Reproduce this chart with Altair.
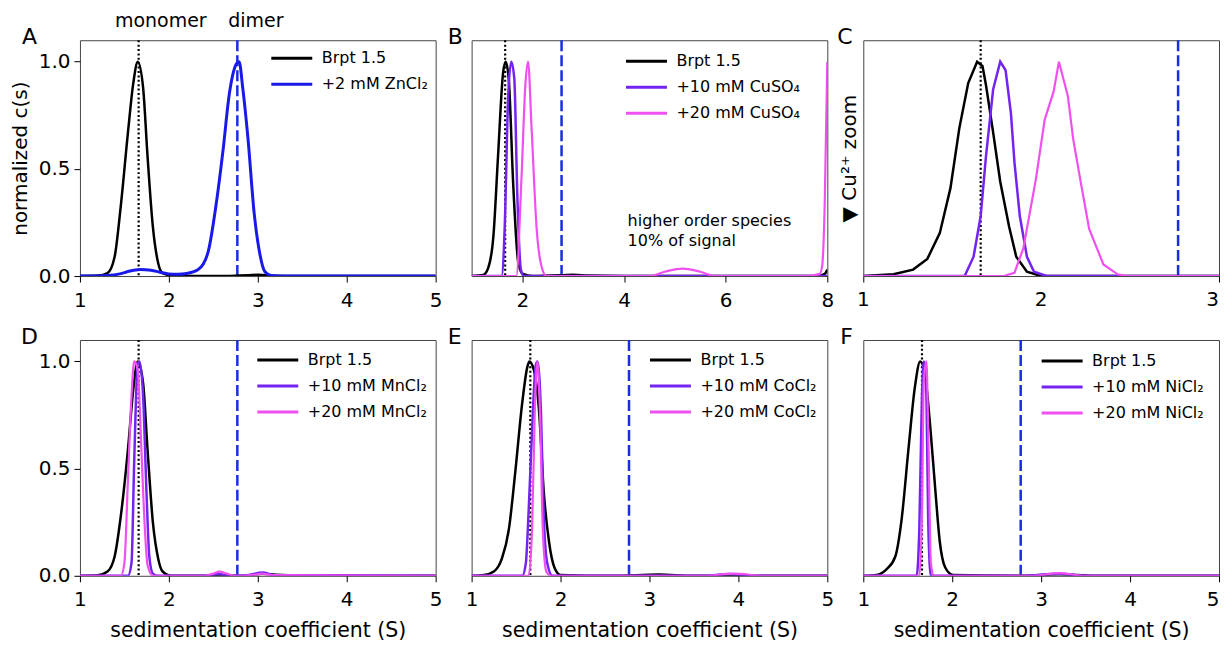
import altair as alt
import pandas as pd

FONT = "DejaVu Sans"
BLACK = "#000000"
BLUE = "#1a1ae8"
PURPLE = "#7424f0"
PINK = "#f050f0"
REF_BLUE = "#1a2ee0"

MONOMER_S = 1.66
DIMER_S = 2.77

# ---------------- Panel A (ZnCl2) ----------------
A_black_s = [1.0, 1.2, 1.31, 1.39, 1.46, 1.54, 1.60, 1.65, 1.71, 1.76, 1.82, 1.88, 1.93, 2.03, 2.5, 2.9, 3.0, 3.1, 3.5, 5.0]
A_black_c = [0, 0.002, 0.014, 0.09, 0.33, 0.67, 0.9, 1.0, 0.88, 0.56, 0.23, 0.06, 0.014, 0.003, 0, 0.004, 0.006, 0.003, 0, 0]
A_blue_s = [1.0, 1.3, 1.45, 1.55, 1.68, 1.8, 1.9, 2.0, 2.1, 2.2, 2.33, 2.44, 2.53, 2.61, 2.68, 2.76, 2.79, 2.83, 2.89, 2.96, 3.02, 3.08, 3.15, 3.3, 5.0]
A_blue_c = [0, 0.003, 0.01, 0.022, 0.03, 0.027, 0.018, 0.01, 0.008, 0.012, 0.03, 0.11, 0.33, 0.59, 0.85, 0.99, 1.0, 0.88, 0.64, 0.29, 0.11, 0.02, 0.003, 0, 0]

# ---------------- Panel B (CuSO4, wide range) ----------------
B_black_s = [1.0, 1.23, 1.33, 1.43, 1.52, 1.62, 1.67, 1.73, 1.82, 1.92, 2.01, 2.2, 2.8, 3.0, 3.3, 4.0, 7.8, 7.95, 8.0]
B_black_c = [0, 0.005, 0.04, 0.19, 0.56, 0.95, 1.0, 0.92, 0.42, 0.06, 0.01, 0, 0.004, 0.006, 0.002, 0, 0, 0.01, 0.03]
B_purple_s = [1.0, 1.59, 1.65, 1.72, 1.78, 1.84, 1.90, 1.97, 2.03, 8.0]
B_purple_c = [0, 0, 0.22, 0.84, 1.0, 0.92, 0.37, 0.03, 0, 0]
B_pink_s = [1.0, 1.88, 1.98, 2.06, 2.11, 2.18, 2.28, 2.37, 2.47, 4.5, 4.8, 5.15, 5.5, 5.8, 7.6, 7.85, 7.9, 7.95, 8.0]
B_pink_c = [0, 0, 0.45, 0.9, 1.0, 0.69, 0.22, 0.05, 0, 0, 0.02, 0.035, 0.02, 0, 0, 0.01, 0.05, 0.35, 1.0]

# ---------------- Panel C (Cu2+ zoom) ----------------
C_black_s = [1.0, 1.17, 1.28, 1.36, 1.43, 1.49, 1.54, 1.59, 1.64, 1.67, 1.69, 1.73, 1.77, 1.82, 1.86, 1.92, 2.0, 3.0]
C_black_c = [0, 0.008, 0.03, 0.08, 0.2, 0.41, 0.69, 0.9, 1.0, 0.98, 0.89, 0.67, 0.44, 0.23, 0.09, 0.02, 0, 0]
C_purple_s = [1.0, 1.57, 1.62, 1.66, 1.69, 1.73, 1.77, 1.80, 1.83, 1.85, 1.88, 1.92, 1.96, 2.03, 3.0]
C_purple_c = [0, 0, 0.09, 0.28, 0.56, 0.87, 1.0, 0.96, 0.76, 0.53, 0.28, 0.09, 0.02, 0, 0]
C_pink_s = [1.0, 1.79, 1.85, 1.90, 1.97, 2.02, 2.07, 2.10, 2.15, 2.18, 2.22, 2.27, 2.35, 2.43, 2.48, 3.0]
C_pink_c = [0, 0, 0.015, 0.13, 0.45, 0.73, 0.86, 1.0, 0.84, 0.64, 0.45, 0.22, 0.054, 0.008, 0, 0]

# ---------------- Panel D (MnCl2) ----------------
D_black_s = [1.0, 1.2, 1.31, 1.39, 1.46, 1.54, 1.60, 1.65, 1.71, 1.76, 1.82, 1.88, 1.93, 2.03, 2.4, 2.55, 2.7, 2.9, 3.05, 3.2, 3.5, 4.0, 4.3, 5.0]
D_black_c = [0, 0.003, 0.02, 0.09, 0.28, 0.59, 0.87, 1.0, 0.9, 0.59, 0.25, 0.08, 0.02, 0, 0, 0.005, 0, 0.003, 0.01, 0.005, 0.002, 0.003, 0, 0]
D_purple_s = [1.0, 1.54, 1.58, 1.61, 1.65, 1.67, 1.71, 1.75, 1.78, 1.82, 1.88, 2.4, 2.55, 2.7, 2.9, 3.05, 3.2, 5.0]
D_purple_c = [0, 0, 0.06, 0.53, 0.99, 1.0, 0.84, 0.37, 0.09, 0.01, 0, 0, 0.008, 0, 0.004, 0.015, 0.002, 0]
D_pink_s = [1.0, 1.46, 1.50, 1.54, 1.58, 1.61, 1.65, 1.69, 1.73, 1.76, 1.82, 2.4, 2.5, 2.57, 2.65, 2.75, 2.95, 3.05, 3.15, 5.0]
D_pink_c = [0, 0, 0.06, 0.45, 0.84, 1.0, 0.96, 0.6, 0.22, 0.05, 0, 0, 0.01, 0.019, 0.01, 0, 0.004, 0.01, 0.003, 0]

# ---------------- Panel E (CoCl2) ----------------
E_black_s = [1.0, 1.14, 1.25, 1.34, 1.42, 1.49, 1.57, 1.63, 1.65, 1.70, 1.76, 1.81, 1.87, 1.93, 2.0, 2.6, 3.1, 3.5, 5.0]
E_black_c = [0, 0.004, 0.02, 0.08, 0.22, 0.48, 0.81, 0.98, 1.0, 0.96, 0.76, 0.4, 0.16, 0.04, 0.004, 0, 0.006, 0, 0]
E_purple_s = [1.0, 1.57, 1.61, 1.64, 1.68, 1.72, 1.74, 1.78, 1.81, 1.85, 1.91, 3.6, 3.9, 4.2, 5.0]
E_purple_c = [0, 0, 0.06, 0.29, 0.68, 0.98, 1.0, 0.76, 0.29, 0.06, 0, 0, 0.008, 0, 0]
E_pink_s = [1.0, 1.64, 1.68, 1.71, 1.74, 1.77, 1.80, 1.84, 1.89, 3.6, 3.95, 4.3, 5.0]
E_pink_c = [0, 0, 0.22, 0.76, 1.0, 0.74, 0.22, 0.02, 0, 0, 0.01, 0, 0]

# ---------------- Panel F (NiCl2) ----------------
F_black_s = [1.0, 1.15, 1.26, 1.36, 1.43, 1.51, 1.58, 1.64, 1.69, 1.75, 1.81, 1.86, 1.92, 2.01, 2.8, 3.2, 3.6, 5.0]
F_black_c = [0, 0.004, 0.03, 0.09, 0.26, 0.6, 0.88, 1.0, 0.95, 0.71, 0.4, 0.16, 0.04, 0.004, 0, 0.007, 0, 0]
F_purple_s = [1.0, 1.60, 1.63, 1.66, 1.68, 1.71, 1.73, 1.76, 2.8, 3.2, 3.5, 5.0]
F_purple_c = [0, 0, 0.22, 0.84, 1.0, 0.84, 0.25, 0, 0, 0.01, 0, 0]
F_pink_s = [1.0, 1.63, 1.66, 1.68, 1.71, 1.73, 1.76, 1.79, 2.9, 3.2, 3.5, 5.0]
F_pink_c = [0, 0, 0.29, 0.91, 1.0, 0.68, 0.06, 0, 0, 0.012, 0, 0]

# annotations
peak_label_text = ["monomer", "dimer"]
peak_label_s = [1.394, 2.667]
peak_label_c = [1.16, 1.16]
note_text = ["higher order species", "10% of signal"]
note_s = 4.07
note_c = 0.233

# x tick values per panel
A_ticks = [1, 2, 3, 4, 5]
B_ticks = [2, 4, 6, 8]
C_ticks = [1, 2, 3]
C_tick_labels = ["1", "2", "3"]

W, H = 356, 236
Y_DOMAIN = [0, 1.1]
BRPT = "\u00a0Brpt 1.5"
LABEL_C = -0.0653   # tick-label row just below the axis (14 px under y = 0)


def panel(series, xdom, xticks, letter, letter_dx, legend_xy, show_y, ytitle=None,
          xtitle=None, interp="monotone", extra_layers=(), right_edge_label=False,
          text_labels=False):
    names = [s[0] for s in series]
    colors = [s[1] for s in series]
    cscale = alt.Scale(domain=names, range=colors)
    if legend_xy is not None:
        legend = alt.Legend(orient="none", legendX=legend_xy[0], legendY=legend_xy[1],
                            title=None, symbolType="stroke", symbolSize=1681,
                            symbolStrokeWidth=3, labelFontSize=16, labelFont=FONT,
                            labelColor="black", padding=0, rowPadding=6, clipHeight=20,
                            labelOffset=8, labelLimit=300)
    else:
        legend = None

    xaxis_kw = dict(values=xticks, format="d", tickSize=6, tickColor="black",
                    labelFontSize=20, labelPadding=8, domain=False, grid=False,
                    labelFlush=False, labelOverlap=False, title=xtitle if xtitle else None,
                    titleFontSize=20.5, titlePadding=11, titleFontWeight="normal")
    if right_edge_label:
        xaxis_kw["labelAlign"] = {"condition": {"test": f"datum.value >= {xdom[1]}",
                                                "value": "right"}, "value": "center"}
    if text_labels:
        xaxis_kw["labels"] = False
    xaxis = alt.Axis(**xaxis_kw)
    if show_y:
        yaxis = alt.Axis(values=[0, 0.5, 1.0], format=".1f", tickSize=6, tickColor="black",
                         labelFontSize=20, labelPadding=4, domain=False, grid=False,
                         labelOverlap=False,
                         title=ytitle if ytitle else None, titleFontSize=20, titlePadding=8,
                         titleFontWeight="normal")
    else:
        yaxis = alt.Axis(labels=False, ticks=False, domain=False, grid=False,
                         title=ytitle if ytitle else None, titleFontSize=20, titlePadding=4,
                         titleFontWeight="normal")

    xenc = alt.X("s:Q", scale=alt.Scale(domain=xdom, nice=False, zero=False), axis=xaxis)
    yenc = alt.Y("c:Q", scale=alt.Scale(domain=Y_DOMAIN, nice=False, zero=False), axis=yaxis)

    layers = []
    for name, col, sw, s, c in series:
        df = pd.DataFrame({"s": s, "c": c, "series": name})
        layers.append(
            alt.Chart(df).mark_line(strokeWidth=sw, interpolate=interp, clip=True).encode(
                x=xenc, y=yenc, color=alt.Color("series:N", scale=cscale, legend=legend)
            )
        )
    mono = alt.Chart(pd.DataFrame({"s": [MONOMER_S]})).mark_rule(
        color="black", strokeWidth=2.2, strokeDash=[2, 2.4]).encode(x=xenc)
    dim = alt.Chart(pd.DataFrame({"s": [DIMER_S]})).mark_rule(
        color=REF_BLUE, strokeWidth=2.5, strokeDash=[11, 4]).encode(x=xenc)
    letter_df = pd.DataFrame({"s": [xdom[0]], "c": [Y_DOMAIN[1]], "t": [letter]})
    letter_mark = alt.Chart(letter_df).mark_text(
        align="left", baseline="alphabetic", fontSize=22, font=FONT, color="black",
        dx=letter_dx, dy=4).encode(x=xenc, y=yenc, text="t:N")
    allv = [mono, dim] + layers + [e(xenc, yenc) for e in extra_layers] + [letter_mark]
    if text_labels:
        inner = pd.DataFrame({"s": xticks[:-1], "c": [LABEL_C] * (len(xticks) - 1),
                              "t": C_tick_labels[:-1]})
        last = pd.DataFrame({"s": [xticks[-1]], "c": [LABEL_C], "t": [C_tick_labels[-1]]})
        allv.append(alt.Chart(inner).mark_text(
            align="center", baseline="top", fontSize=20, font=FONT, color="black",
            clip=False).encode(x=xenc, y=yenc, text="t:N"))
        allv.append(alt.Chart(last).mark_text(
            align="right", baseline="top", fontSize=20, font=FONT, color="black",
            clip=False).encode(x=xenc, y=yenc, text="t:N"))
    return alt.layer(*allv).properties(width=W, height=H)


def peak_labels(xenc, yenc):
    df = pd.DataFrame({"s": peak_label_s, "c": peak_label_c, "t": peak_label_text})
    return alt.Chart(df).mark_text(align="left", baseline="alphabetic", fontSize=19,
                                   font=FONT, color="black", clip=False).encode(
        x=xenc, y=yenc, text="t:N")


def note_label(xenc, yenc):
    df = pd.DataFrame({"s": [note_s], "c": [note_c], "t": ["\n".join(note_text)]})
    return alt.Chart(df).mark_text(align="left", baseline="alphabetic", fontSize=16,
                                   font=FONT, color="black", lineBreak="\n",
                                   lineHeight=20).encode(x=xenc, y=yenc, text="t:N")


pA = panel([(BRPT, BLACK, 2.5, A_black_s, A_black_c),
            ("+2 mM ZnCl\u2082", BLUE, 3, A_blue_s, A_blue_c)],
           [1, 5], A_ticks, "A", -58, (190, 8), True, ytitle="normalized c(s)",
           extra_layers=[peak_labels])
pB = panel([(BRPT, BLACK, 2.5, B_black_s, B_black_c),
            ("+10 mM CuSO\u2084", PURPLE, 2.5, B_purple_s, B_purple_c),
            ("+20 mM CuSO\u2084", PINK, 2.2, B_pink_s, B_pink_c)],
           [1, 8], B_ticks, "B", -24, (153, 11), False, extra_layers=[note_label])
pC = panel([(BRPT, BLACK, 2.5, C_black_s, C_black_c),
            ("+10 mM CuSO\u2084", PURPLE, 2.5, C_purple_s, C_purple_c),
            ("+20 mM CuSO\u2084", PINK, 2.2, C_pink_s, C_pink_c)],
           [1, 3], C_ticks, "C", -26, None, False, ytitle="\u25bc Cu\u00b2\u207a zoom",
           interp="linear", text_labels=True)
pD = panel([(BRPT, BLACK, 2.5, D_black_s, D_black_c),
            ("+10 mM MnCl\u2082", PURPLE, 2.5, D_purple_s, D_purple_c),
            ("+20 mM MnCl\u2082", PINK, 2.2, D_pink_s, D_pink_c)],
           [1, 5], A_ticks, "D", -59, (176, 10), True,
           xtitle="sedimentation coefficient (S)")
pE = panel([(BRPT, BLACK, 2.5, E_black_s, E_black_c),
            ("+10 mM CoCl\u2082", PURPLE, 2.5, E_purple_s, E_purple_c),
            ("+20 mM CoCl\u2082", PINK, 2.2, E_pink_s, E_pink_c)],
           [1, 5], A_ticks, "E", -24, (177, 10), False,
           xtitle="sedimentation coefficient (S)")
pF = panel([(BRPT, BLACK, 2.5, F_black_s, F_black_c),
            ("+10 mM NiCl\u2082", PURPLE, 2.5, F_purple_s, F_purple_c),
            ("+20 mM NiCl\u2082", PINK, 2.2, F_pink_s, F_pink_c)],
           [1, 5], A_ticks, "F", -23, (177, 11), False,
           xtitle="sedimentation coefficient (S)", right_edge_label=True)

chart = alt.concat(
    pA, pB, pC, pD, pE, pF, columns=3, bounds="flush",
    spacing={"row": 64, "column": 36},
).resolve_scale(
    color="independent"
).properties(
    padding={"left": 1, "top": 3, "right": 0, "bottom": 0},
    background="white",
).configure_view(
    stroke="#444444", strokeWidth=1
).configure_axis(
    labelFont=FONT, titleFont=FONT, labelColor="black", titleColor="black"
).configure_legend(
    labelFont=FONT
)

chart.save("out.html", embed_options={"renderer": "svg", "actions": False})
